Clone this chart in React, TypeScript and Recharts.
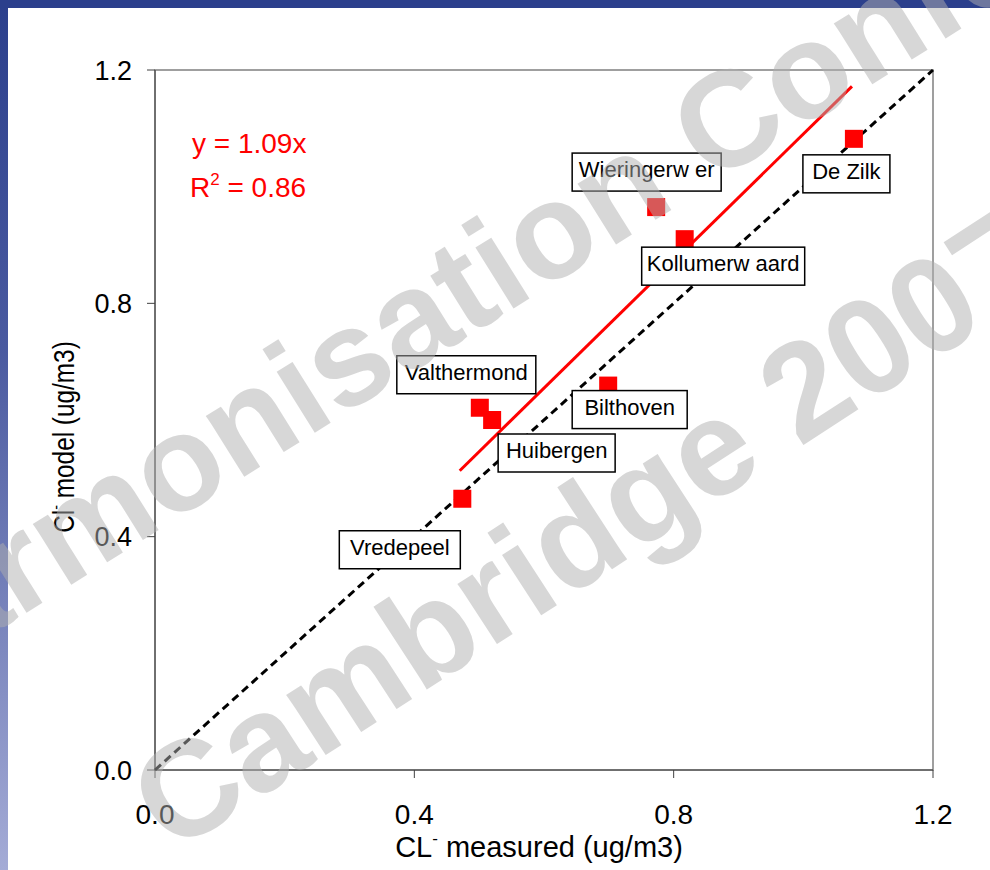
import React from "react";
import { ScatterChart, Scatter, XAxis, YAxis, Label, ReferenceArea } from "recharts";

// sites, measured vs model chloride (ug/m3)
const SITES = [
  "De Zilk",
  "Wieringerw er",
  "Kollumerw aard",
  "Valthermond",
  "Huibergen",
  "Bilthoven",
  "Vredepeel",
];
const MEASURED = [1.078, 0.773, 0.817, 0.501, 0.52, 0.699, 0.474];
const MODEL = [1.082, 0.965, 0.91, 0.621, 0.6, 0.659, 0.465];

const TICKS = [0, 0.4, 0.8, 1.2];

// regression line y = 1.09x, drawn over the data range
const FIT_X = [0.47, 1.075];
const FIT_Y = [0.513, 1.172];

// 1:1 line
const ONE_X = [0, 1.2];
const ONE_Y = [0, 1.2];

// label box placement relative to each point (px)
const LABEL_BOX: Record<string, { dx: number; dy: number; w: number }> = {
  "De Zilk": { dx: -51, dy: 16, w: 87 },
  "Wieringerw er": { dx: -84, dy: -54, w: 149 },
  "Kollumerw aard": { dx: -43, dy: 8, w: 163 },
  Valthermond: { dx: -83, dy: -52, w: 139 },
  Huibergen: { dx: 6, dy: 14, w: 117 },
  Bilthoven: { dx: -36, dy: 5, w: 115 },
  Vredepeel: { dx: -123, dy: 32, w: 121 },
};

const FONT = "'Liberation Sans', Arial, sans-serif";

const points = SITES.map((name, i) => ({ name, x: MEASURED[i], y: MODEL[i] }));
const fitLine = FIT_X.map((x, i) => ({ x, y: FIT_Y[i] }));
const oneLine = ONE_X.map((x, i) => ({ x, y: ONE_Y[i] }));

const fmt = (v: number) => v.toFixed(1);

const NoShape = () => <g />;

const Square = (p: any) => (
  <rect x={p.cx - 9} y={p.cy - 9} width={18} height={18} fill="#ff0000" />
);

const SiteLabel = (p: any) => {
  const b = LABEL_BOX[p.payload.name];
  if (!b) return <g />;
  const x = p.cx + b.dx;
  const y = p.cy + b.dy;
  return (
    <g>
      <rect x={x} y={y} width={b.w} height={38} fill="#fff" stroke="#000" strokeWidth={1.5} />
      <text
        x={x + b.w / 2}
        y={y + 24}
        textAnchor="middle"
        fontSize={22}
        fontFamily={FONT}
        fill="#000"
      >
        {p.payload.name}
      </text>
    </g>
  );
};

export default function App() {
  return (
    <div
      style={{
        position: "absolute",
        left: 0,
        top: 0,
        width: 990,
        height: 870,
        background: "#fff",
        overflow: "hidden",
      }}
    >
      {/* slide frame */}
      <div
        style={{
          position: "absolute",
          left: 0,
          top: 0,
          width: 8,
          height: 870,
          background: "linear-gradient(#2b3f8c, #4a5aa0 40%, #a4abd6)",
        }}
      />
      <div
        style={{ position: "absolute", left: 0, top: 0, width: 990, height: 8, background: "#2b3f8c" }}
      />

      <div style={{ position: "absolute", left: 0, top: 0 }}>
        <ScatterChart width={990} height={870} margin={{ top: 70, right: 57, bottom: 0, left: 0 }}>
          <XAxis
            type="number"
            dataKey="x"
            domain={[0, 1.2]}
            ticks={TICKS}
            interval={0}
            tickFormatter={fmt}
            height={100}
            stroke="#404040"
            tickSize={8}
            tickMargin={26}
            tick={{ fontSize: 28, fill: "#000", fontFamily: FONT }}
          >
            <Label
              content={(props: any) => {
                const vb = props.viewBox;
                return (
                  <text
                    x={vb.x + vb.width / 2 - 5}
                    y={857}
                    textAnchor="middle"
                    fontSize={29}
                    fontFamily={FONT}
                    fill="#000"
                  >
                    CL
                    <tspan fontSize={17} dy={-13}>
                      -
                    </tspan>
                    <tspan dy={13}> measured (ug/m3)</tspan>
                  </text>
                );
              }}
            />
          </XAxis>
          <YAxis
            type="number"
            dataKey="y"
            domain={[0, 1.2]}
            ticks={TICKS}
            interval={0}
            tickFormatter={fmt}
            width={155}
            stroke="#404040"
            tickSize={8}
            tickMargin={15}
            tick={{ fontSize: 27, fill: "#000", fontFamily: FONT }}
          >
            <Label
              content={() => (
                <text
                  x={0}
                  y={0}
                  textAnchor="middle"
                  fontSize={29}
                  fontFamily={FONT}
                  fill="#000"
                  transform="translate(74 437) rotate(-90) scale(0.84 1)"
                >
                  Cl
                  <tspan fontSize={17} dy={-13}>
                    -
                  </tspan>
                  <tspan dy={13}> model (ug/m3)</tspan>
                </text>
              )}
            />
          </YAxis>

          {/* plot frame */}
          <ReferenceArea
            x1={0}
            x2={1.2}
            y1={0}
            y2={1.2}
            fill="none"
            stroke="#808080"
            strokeWidth={1.5}
          />

          <Scatter
            data={oneLine}
            line={{ stroke: "#000", strokeWidth: 3, strokeDasharray: "8 5" }}
            shape={NoShape}
            legendType="none"
            isAnimationActive={false}
          />
          <Scatter
            data={fitLine}
            line={{ stroke: "#ff0000", strokeWidth: 3 }}
            shape={NoShape}
            legendType="none"
            isAnimationActive={false}
          />
          <Scatter data={points} shape={Square} isAnimationActive={false} />
          <Scatter data={points} shape={SiteLabel} isAnimationActive={false} />
        </ScatterChart>
      </div>

      {/* equation + watermark */}
      <svg
        width={990}
        height={870}
        style={{ position: "absolute", left: 0, top: 0, pointerEvents: "none" }}
      >
        <text x={192} y={153} fontSize={28} fontFamily={FONT} fill="#ff0000">
          y = 1.09x
        </text>
        <text x={190} y={197} fontSize={28} fontFamily={FONT} fill="#ff0000">
          R
          <tspan fontSize={17} dy={-12}>
            2
          </tspan>
          <tspan dy={12}> = 0.86</tspan>
        </text>
        <g opacity={0.5} fill="#b0b0b0" fontFamily={FONT} fontWeight="bold" fontSize={136}>
          <text transform="translate(-129 710) rotate(-32)">Harmonisation Conference</text>
          <text transform="translate(172 855) rotate(-33)">Cambridge 2007</text>
        </g>
      </svg>
    </div>
  );
}
